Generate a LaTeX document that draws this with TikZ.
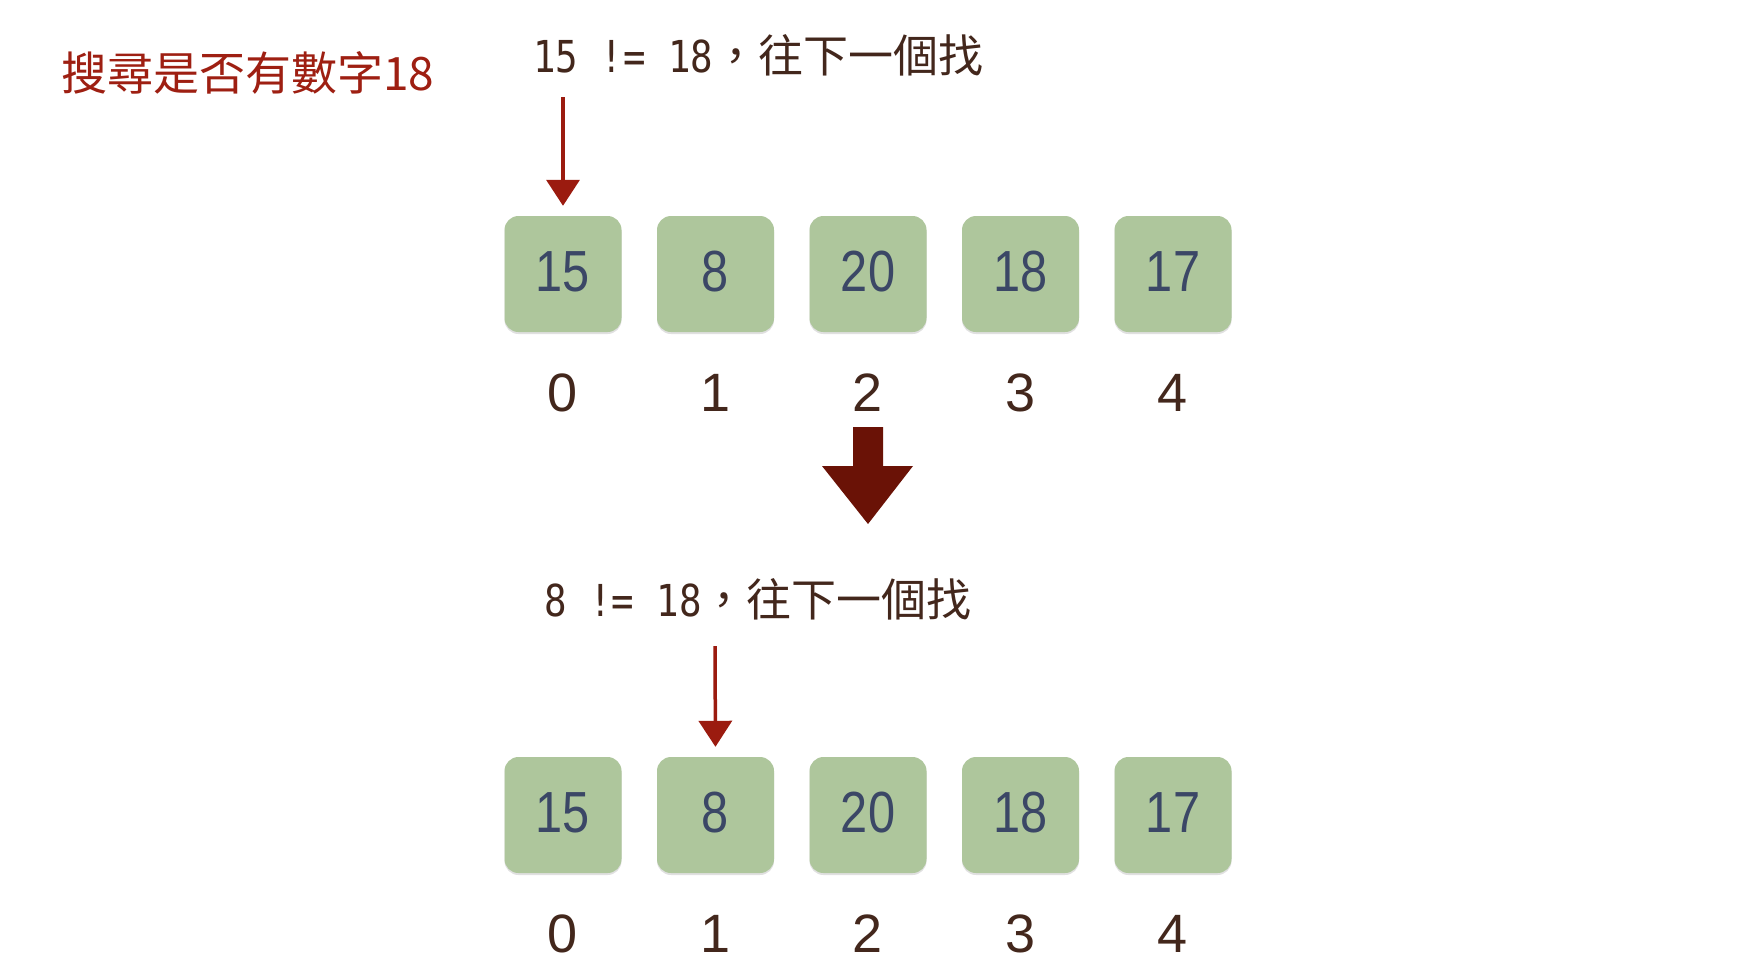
\documentclass[tikz,border=0pt]{standalone}
\usepackage{fontspec}
\setmainfont{Liberation Sans}
\newfontfamily\cjk{Noto Sans CJK TC}
\newfontfamily\monofont[FakeStretch=0.85]{DejaVu Sans Mono}
\newfontfamily\narrowsans[FakeStretch=0.84]{Liberation Sans}
\usetikzlibrary{arrows.meta,shadows}
\definecolor{cellgreen}{HTML}{AEC69C}
\definecolor{celltext}{HTML}{3B4766}
\definecolor{darkbrown}{HTML}{43271C}
\definecolor{titlered}{HTML}{9E1F12}
\definecolor{ptrred}{HTML}{9B1B0F}
\definecolor{bigred}{HTML}{6A1206}
\begin{document}
\begin{tikzpicture}[x=1pt,y=-1pt,
  cell/.style={rounded corners=14pt, fill=cellgreen, minimum width=117pt, minimum height=116pt, inner sep=0pt,
    font=\narrowsans\fontsize{58}{58}\selectfont, text=celltext,
    drop shadow={shadow xshift=0pt, shadow yshift=-2pt, opacity=0.12, fill=black}},
  idx/.style={font=\fontsize{54}{54}\selectfont, text=darkbrown, inner sep=0pt},
  caption/.style={anchor=west, inner sep=0pt, text=darkbrown},
  ptr/.style={draw=ptrred, line width=3.5pt, shorten >=10pt, -{Triangle[width=33pt,length=26pt]}}]
\useasboundingbox (0,0) rectangle (1740,978);
\fill[white] (0,0) rectangle (1740,978);

\node[anchor=west, inner sep=0pt, text=titlered, font=\cjk\fontsize{46}{46}\selectfont] (title) at (61,73) {搜尋是否有數字18};

\node[caption] (cap1) at (533,55) {{\monofont\fontsize{44}{44}\selectfont 15 != 18}{\cjk\fontsize{45}{45}\selectfont ，往下一個找}};
\node[caption] (cap2) at (544,599) {{\monofont\fontsize{44}{44}\selectfont 8 != 18}{\cjk\fontsize{45}{45}\selectfont ，往下一個找}};

\foreach \v [count=\i from 0] in {15,8,20,18,17} {
  \node[cell] (a\i) at ({563+152.5*\i},274) {\raisebox{5pt}{\v}};
  \node[idx] (ia\i) at ({563+152.5*\i},393) {\i};
  \node[cell] (b\i) at ({563+152.5*\i},815) {\raisebox{5pt}{\v}};
  \node[idx] (ib\i) at ({563+152.5*\i},934) {\i};
}

\coordinate (p1) at (563,97);
\coordinate (p2) at (715,646);
\draw[ptr] (p1) -- (a0.north);
\draw[ptr] (p2) -- (b1.north);

\fill[bigred] (853,427) -- (883,427) -- (883,466) -- (913,466) -- (868,524) -- (822,466) -- (853,466) -- cycle;
\end{tikzpicture}
\end{document}
